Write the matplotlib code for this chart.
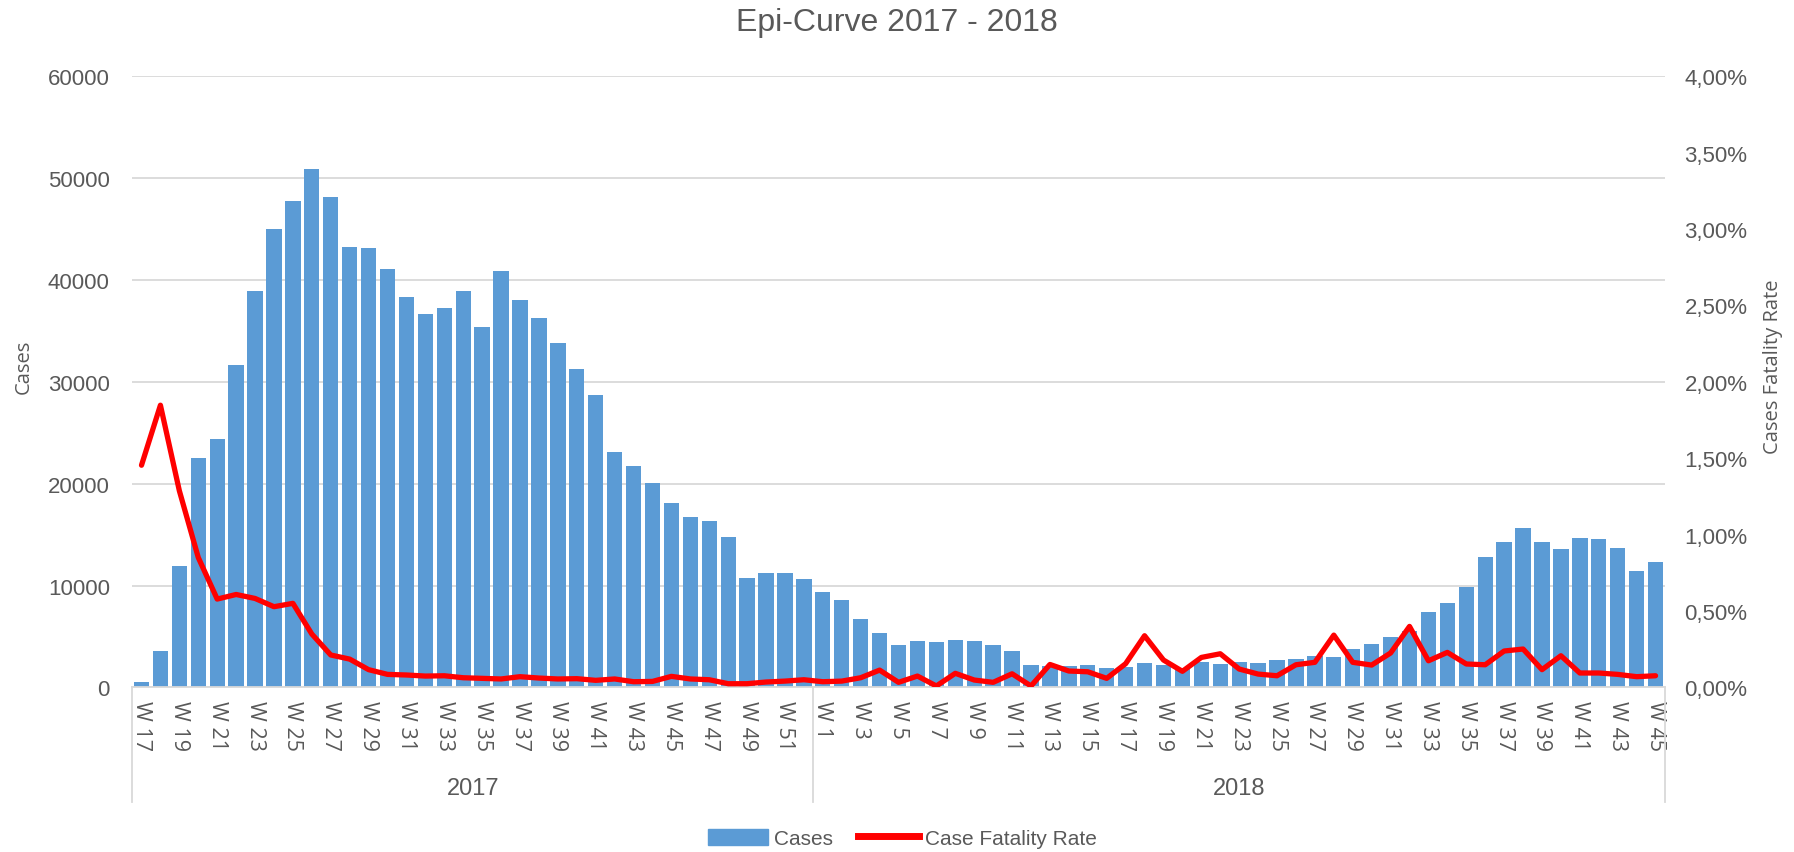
import matplotlib
matplotlib.use("Agg")
import matplotlib.pyplot as plt
import matplotlib.transforms as mtransforms
from matplotlib.patches import Patch
from matplotlib.lines import Line2D
import numpy as np

# categories
weeks_2017 = list(range(17, 53))
weeks_2018 = list(range(1, 46))

# weekly cases
cases_2017 = [550, 3550, 11900, 22550, 24380, 31650, 38950, 45020, 47780, 50880,
              48170, 43270, 43170, 41080, 38290, 36690, 37250, 38880, 35400, 40880,
              38030, 36300, 33850, 31290, 28710, 23120, 21780, 20110, 18080, 16710,
              16340, 14720, 10700, 11270, 11190, 10630]
cases_2018 = [9390, 8620, 6670, 5300, 4150, 4600, 4470, 4680, 4600, 4150,
              3600, 2240, 2090, 2060, 2180, 1860, 1990, 2350, 2220, 1900,
              2520, 2290, 2520, 2380, 2670, 2740, 3070, 2940, 3760, 4250,
              4900, 5560, 7430, 8240, 9810, 12760, 14300, 15640, 14230, 13570,
              14620, 14520, 13640, 11380, 12330]

# case fatality rate, percent
cfr_2017 = [1.454, 1.847, 1.287, 0.850, 0.578, 0.608, 0.582, 0.528, 0.550, 0.349,
            0.212, 0.185, 0.116, 0.085, 0.081, 0.074, 0.076, 0.063, 0.059, 0.055,
            0.070, 0.061, 0.055, 0.057, 0.046, 0.055, 0.037, 0.039, 0.072, 0.055,
            0.050, 0.024, 0.024, 0.035, 0.041, 0.050]
cfr_2018 = [0.037, 0.041, 0.063, 0.113, 0.033, 0.074, 0.009, 0.092, 0.048, 0.033,
            0.089, 0.009, 0.150, 0.107, 0.102, 0.059, 0.155, 0.338, 0.179, 0.105,
            0.196, 0.220, 0.120, 0.087, 0.076, 0.148, 0.164, 0.342, 0.164, 0.146,
            0.225, 0.399, 0.174, 0.229, 0.153, 0.148, 0.238, 0.251, 0.116, 0.207,
            0.094, 0.094, 0.085, 0.070, 0.076]

cases = cases_2017 + cases_2018
cfr = cfr_2017 + cfr_2018
labels = ["W %d" % w for w in weeks_2017 + weeks_2018]
n = len(cases)
x = np.arange(n)

grey = "#595959"
narrow = ["Liberation Sans Narrow", "Liberation Sans", "DejaVu Sans"]
wide = ["Open Sans", "DejaVu Sans"]

fig = plt.figure(figsize=(17.94, 8.53), dpi=100)
ax = fig.add_axes([0.0736, 0.193, 0.8545, 0.7164])

ax.bar(x, cases, width=0.81, color="#5B9BD5", zorder=2)
ax.set_xlim(-0.5, n - 0.5)
ax.set_ylim(0, 60000)
ax.set_yticks(range(0, 60001, 10000))
ax.yaxis.grid(True, color="#D9D9D9", lw=1.3)
ax.set_axisbelow(True)
for s in ["top", "right", "left"]:
    ax.spines[s].set_visible(False)
ax.spines["bottom"].set_color("#D9D9D9")
ax.spines["bottom"].set_linewidth(1.3)
ax.tick_params(axis="both", length=0)
ax.tick_params(axis="y", pad=16, labelsize=16, labelcolor=grey)
for t in ax.get_yticklabels():
    t.set_family(narrow)

ax.set_xticks(x[::2])
ax.set_xticklabels(labels[::2], rotation=-90, ha="center", va="top",
                   fontsize=15.5, color=grey, family=wide)
ax.tick_params(axis="x", pad=9)
ax.set_ylabel("Cases", fontsize=14.5, color=grey, family=wide)
ax.yaxis.set_label_coords(-0.064, 0.527)

ax2 = ax.twinx()
ax2.plot(x, cfr, color="#FF0000", lw=3.8, solid_joinstyle="round",
         solid_capstyle="round", zorder=3)
ax2.set_ylim(0, 4)
ax2.set_yticks(np.arange(0, 4.01, 0.5))
ax2.set_yticklabels([("%.2f%%" % v).replace(".", ",") for v in np.arange(0, 4.01, 0.5)],
                    fontsize=16, color=grey, family=narrow)
ax2.tick_params(axis="y", length=0, pad=14)
for s in ax2.spines.values():
    s.set_visible(False)
ax2.set_ylabel("Cases Fatality Rate", fontsize=14.5, color=grey, family=wide)
ax2.yaxis.set_label_coords(1.064, 0.527)

# year group separators and labels
tr = mtransforms.blended_transform_factory(ax.transData, ax.transAxes)
for b in [-0.5, len(cases_2017) - 0.5, n - 0.5]:
    ax.plot([b, b], [0, -0.188], transform=tr, color="#D9D9D9", lw=1.3, clip_on=False)
ax.text((len(cases_2017) - 1) / 2, -0.165, "2017", transform=tr, ha="center", va="center",
        fontsize=17, color=grey, family=narrow)
ax.text(len(cases_2017) + (len(cases_2018) - 1) / 2, -0.165, "2018", transform=tr,
        ha="center", va="center", fontsize=17, color=grey, family=narrow)

fig.text(0.5, 1 - 23 / 853, "Epi-Curve 2017 - 2018", ha="center", va="center",
         fontsize=23, color=grey, family=narrow)

handles = [Patch(color="#5B9BD5", label="Cases"),
           Line2D([0], [0], color="#FF0000", lw=5, label="Case Fatality Rate")]
fig.legend(handles=handles, loc="center", bbox_to_anchor=(0.503, 0.016), ncol=2,
           frameon=False, prop={"family": narrow, "size": 15}, labelcolor=grey,
           handlelength=2.9, handleheight=0.8, columnspacing=1.2, handletextpad=0.3)

fig.savefig("out.png", dpi=100)
